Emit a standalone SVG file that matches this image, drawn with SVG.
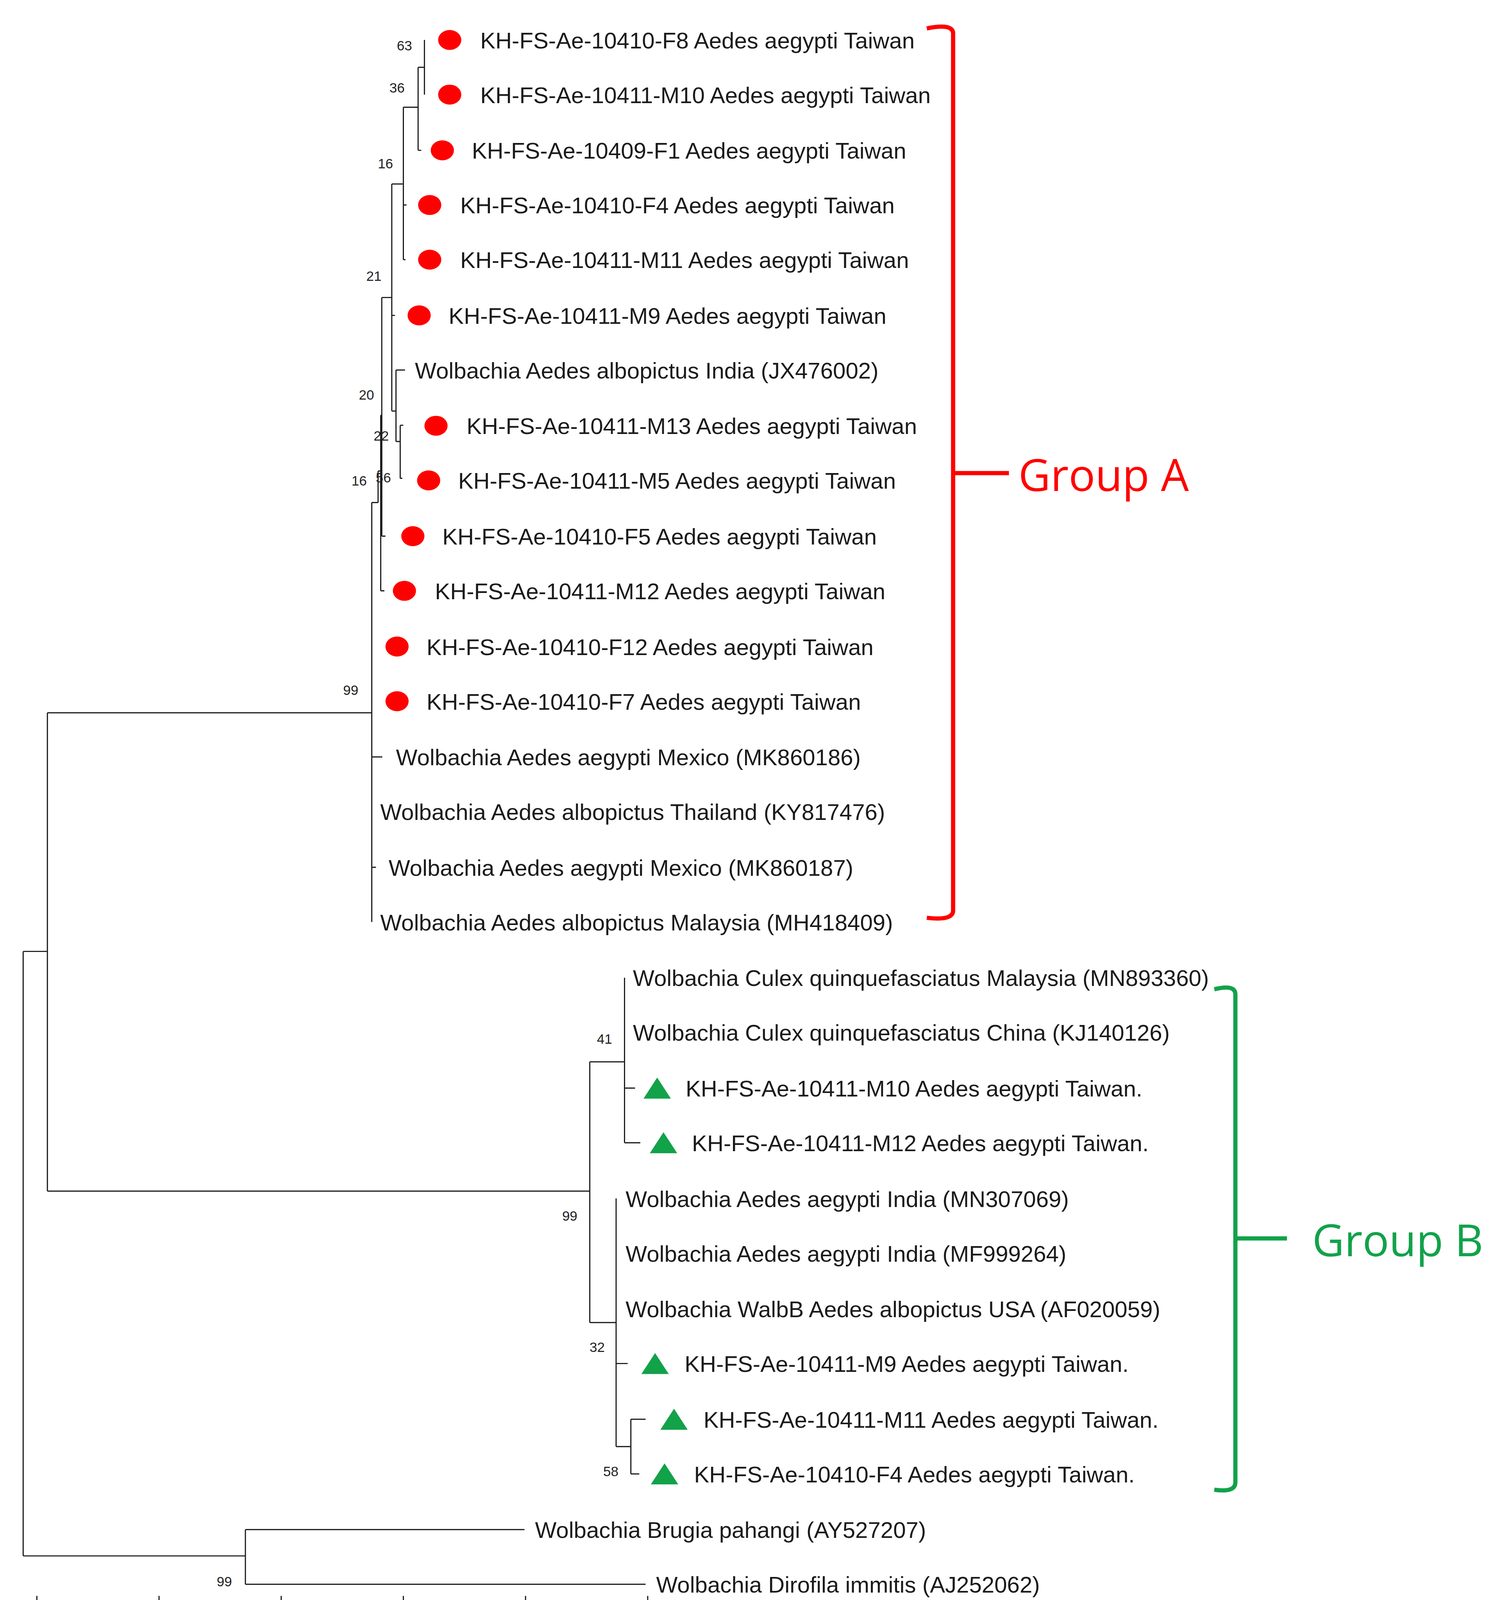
<svg xmlns="http://www.w3.org/2000/svg" width="3801" height="4220" viewBox="0 0 3801 4220">
<style>
.t{font-family:"Liberation Sans",Arial,sans-serif;font-size:21.6px;fill:#1a1a1a}
.b{font-family:"Liberation Sans",Arial,sans-serif;font-size:13px;fill:#222;text-anchor:middle}
.ax{font-family:"Liberation Sans",Arial,sans-serif;font-size:12.5px;fill:#222;text-anchor:middle}
.br{fill:none;stroke:#1a1a1a;stroke-width:1.1}
.dot{fill:#ff0000}
.tri{fill:#12a24a}
</style>
<rect width="3801" height="4220" fill="#fff"/>
<g transform="scale(2.6957 2.6913)">
<g id="connectors" class="br">
<path d="M22 905V1480M22 905H45M45 678V1133M45 678H353M45 1133H560M22 1480H233M233 1455V1507M233 1455H498M233 1507H613"/>
<path d="M353 478V877M353 478H359M359 448V478M359 448H361.5M361.5 395V562M361.5 562H365M361.5 395H362.5M362.5 283V510M362.5 510H366M362.5 283H372M372 175V391M372 300H375M372 391H376M376 352V420M376 352H384.6M376 420H380M380 404.5V455M380 404.5H383M380 455H382M372 175H383M383 102V247M383 195H386M383 247H385M383 102H397M397 64V143M397 143H400M397 64H403M403 38V90M353 720H363M353 825H357"/>
<path d="M560 1010V1258M560 1010H593M593 930V1087M593 1035H603M593 1087H608M560 1258H585M585 1140V1376M585 1297H596M585 1376H599M599 1350V1402M599 1350H613M599 1402H607"/>
<path d="M22 1525H615M35 1518V1532M151 1518V1532M267 1518V1532M383 1518V1532M499 1518V1532M615 1518V1532"/>
</g>
<g id="bootstrap">
<text class="b" x="384" y="48">63</text><text class="b" x="377" y="88">36</text><text class="b" x="366" y="160">16</text><text class="b" x="355" y="267">21</text><text class="b" x="348" y="380">20</text><text class="b" x="362" y="419">22</text><text class="b" x="341" y="462">16</text><text class="b" x="364" y="459">56</text><text class="b" x="333" y="661">99</text><text class="b" x="574" y="993">41</text><text class="b" x="541" y="1161">99</text><text class="b" x="567" y="1286">32</text><text class="b" x="580" y="1404">58</text><text class="b" x="213" y="1509">99</text>
</g>
<g id="groupA-leaves">
<g id="a1"><ellipse class="dot" cx="427" cy="38" rx="11" ry="9.5"/><text class="t" x="456" y="46">KH-FS-Ae-10410-F8 Aedes aegypti Taiwan</text></g>
<g id="a2"><ellipse class="dot" cx="427" cy="90" rx="11" ry="9.5"/><text class="t" x="456" y="98">KH-FS-Ae-10411-M10 Aedes aegypti Taiwan</text></g>
<g id="a3"><ellipse class="dot" cx="420" cy="143" rx="11" ry="9.5"/><text class="t" x="448" y="151">KH-FS-Ae-10409-F1 Aedes aegypti Taiwan</text></g>
<g id="a4"><ellipse class="dot" cx="408" cy="195" rx="11" ry="9.5"/><text class="t" x="437" y="203">KH-FS-Ae-10410-F4 Aedes aegypti Taiwan</text></g>
<g id="a5"><ellipse class="dot" cx="408" cy="247" rx="11" ry="9.5"/><text class="t" x="437" y="255">KH-FS-Ae-10411-M11 Aedes aegypti Taiwan</text></g>
<g id="a6"><ellipse class="dot" cx="398" cy="300" rx="11" ry="9.5"/><text class="t" x="426" y="308">KH-FS-Ae-10411-M9 Aedes aegypti Taiwan</text></g>
<g id="a7"><text class="t" x="394" y="360">Wolbachia Aedes albopictus India (JX476002)</text></g>
<g id="a8"><ellipse class="dot" cx="414" cy="405" rx="11" ry="9.5"/><text class="t" x="443" y="413">KH-FS-Ae-10411-M13 Aedes aegypti Taiwan</text></g>
<g id="a9"><ellipse class="dot" cx="407" cy="457" rx="11" ry="9.5"/><text class="t" x="435" y="465">KH-FS-Ae-10411-M5 Aedes aegypti Taiwan</text></g>
<g id="a10"><ellipse class="dot" cx="392" cy="510" rx="11" ry="9.5"/><text class="t" x="420" y="518">KH-FS-Ae-10410-F5 Aedes aegypti Taiwan</text></g>
<g id="a11"><ellipse class="dot" cx="384" cy="562" rx="11" ry="9.5"/><text class="t" x="413" y="570">KH-FS-Ae-10411-M12 Aedes aegypti Taiwan</text></g>
<g id="a12"><ellipse class="dot" cx="377" cy="615" rx="11" ry="9.5"/><text class="t" x="405" y="623">KH-FS-Ae-10410-F12 Aedes aegypti Taiwan</text></g>
<g id="a13"><ellipse class="dot" cx="377" cy="667" rx="11" ry="9.5"/><text class="t" x="405" y="675">KH-FS-Ae-10410-F7 Aedes aegypti Taiwan</text></g>
<g id="a14"><text class="t" x="376" y="728">Wolbachia Aedes aegypti Mexico (MK860186)</text></g>
<g id="a15"><text class="t" x="361" y="780">Wolbachia Aedes albopictus Thailand (KY817476)</text></g>
<g id="a16"><text class="t" x="369" y="833">Wolbachia Aedes aegypti Mexico (MK860187)</text></g>
<g id="a17"><text class="t" x="361" y="885">Wolbachia Aedes albopictus Malaysia (MH418409)</text></g>
</g>
<g id="groupB-leaves">
<g id="b1"><text class="t" x="601" y="938">Wolbachia Culex quinquefasciatus Malaysia (MN893360)</text></g>
<g id="b2"><text class="t" x="601" y="990">Wolbachia Culex quinquefasciatus China (KJ140126)</text></g>
<g id="b3"><polygon class="tri" points="611,1045 624,1025 637,1045"/><text class="t" x="651" y="1043">KH-FS-Ae-10411-M10 Aedes aegypti Taiwan.</text></g>
<g id="b4"><polygon class="tri" points="617,1097 630,1077 643,1097"/><text class="t" x="657" y="1095">KH-FS-Ae-10411-M12 Aedes aegypti Taiwan.</text></g>
<g id="b5"><text class="t" x="594" y="1148">Wolbachia Aedes aegypti India (MN307069)</text></g>
<g id="b6"><text class="t" x="594" y="1200">Wolbachia Aedes aegypti India (MF999264)</text></g>
<g id="b7"><text class="t" x="594" y="1253">Wolbachia WalbB Aedes albopictus USA (AF020059)</text></g>
<g id="b8"><polygon class="tri" points="609,1307 622,1287 635,1307"/><text class="t" x="650" y="1305">KH-FS-Ae-10411-M9 Aedes aegypti Taiwan.</text></g>
<g id="b9"><polygon class="tri" points="627,1360 640,1340 653,1360"/><text class="t" x="668" y="1358">KH-FS-Ae-10411-M11 Aedes aegypti Taiwan.</text></g>
<g id="b10"><polygon class="tri" points="618,1412 631,1392 644,1412"/><text class="t" x="659" y="1410">KH-FS-Ae-10410-F4 Aedes aegypti Taiwan.</text></g>
</g>
<g id="outgroup">
<g id="o1"><text class="t" x="508" y="1463">Wolbachia Brugia pahangi (AY527207)</text></g>
<g id="o2"><text class="t" x="623" y="1515">Wolbachia Dirofila immitis (AJ252062)</text></g>
</g>
<g id="axis-labels">
<text class="ax" x="35" y="1552">0.250</text><text class="ax" x="151" y="1552">0.200</text><text class="ax" x="267" y="1552">0.150</text><text class="ax" x="383" y="1552">0.100</text><text class="ax" x="499" y="1552">0.050</text><text class="ax" x="615" y="1552">0.000</text>
</g>
<g id="groupA">
<path d="M880 27Q905 22 905 32V866Q905 876 880 873M905 450H958" fill="none" stroke="#ff0000" stroke-width="4"/>
<text x="967" y="467" font-family="'Open Sans','Liberation Sans',sans-serif" font-size="42" fill="#ff0000">Group A</text>
</g>
<g id="groupB">
<path d="M1153 941Q1173 936 1173 946V1410Q1173 1420 1153 1417M1173 1178H1222" fill="none" stroke="#12a24a" stroke-width="4"/>
<text x="1246" y="1195" font-family="'Open Sans','Liberation Sans',sans-serif" font-size="42" fill="#12a24a">Group B</text>
</g>
</g>
</svg>
